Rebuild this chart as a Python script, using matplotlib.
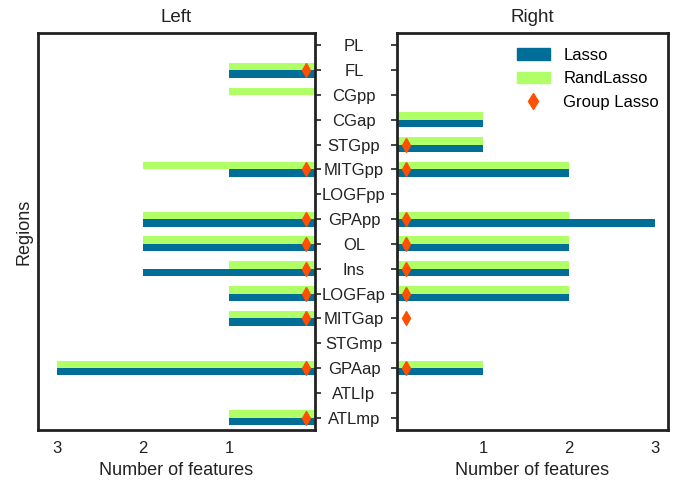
import numpy as np
import matplotlib
matplotlib.use("Agg")
import matplotlib.pyplot as plt
from matplotlib.patches import Patch
from matplotlib.lines import Line2D

regions = ["PL", "FL", "CGpp", "CGap", "STGpp", "MITGpp", "LOGFpp", "GPApp",
           "OL", "Ins", "LOGFap", "MITGap", "STGmp", "GPAap", "ATLIp", "ATLmp"]

left_lasso = [0, 1, 0, 0, 0, 1, 0, 2, 2, 2, 1, 1, 0, 3, 0, 1]
left_rand = [0, 1, 1, 0, 0, 2, 0, 2, 2, 1, 1, 1, 0, 3, 0, 1]
left_group = [0, 1, 0, 0, 0, 1, 0, 1, 1, 1, 1, 1, 0, 1, 0, 1]

right_lasso = [0, 0, 0, 1, 1, 2, 0, 3, 2, 2, 2, 0, 0, 1, 0, 0]
right_rand = [0, 0, 0, 1, 1, 2, 0, 2, 2, 2, 2, 0, 0, 1, 0, 0]
right_group = [0, 0, 0, 0, 1, 1, 0, 1, 1, 1, 1, 1, 0, 1, 0, 0]

lasso_color = "#006e96"
rand_color = "#b0ff66"
group_color = "#ff4f00"
text_color = "#222222"

plt.rcParams["font.family"] = ["Liberation Sans", "DejaVu Sans"]
plt.rcParams["font.size"] = 12


def draw(ax, lasso, rand, group):
    y = np.arange(len(regions))
    ax.barh(y + 0.15, lasso, height=0.3, color=lasso_color, label="Lasso")
    ax.barh(y - 0.15, rand, height=0.3, color=rand_color, label="RandLasso")
    gy = [yy for yy, g in zip(y, group) if g]
    ax.plot([0.1] * len(gy), gy, "d", color=group_color, markersize=7.5,
            linestyle="none", label="Group Lasso")
    ax.set_ylim(15.5, -0.5)
    ax.set_yticks(y)
    ax.set_xticks([1, 2, 3])
    ax.tick_params(axis="x", length=0, pad=8, labelsize=12, labelcolor=text_color)
    ax.tick_params(axis="y", length=4, width=1.2, color=text_color)
    ax.set_xlabel("Number of features", fontsize=13, color=text_color)
    for sp in ax.spines.values():
        sp.set_linewidth(2)
        sp.set_color(text_color)


fig = plt.figure(figsize=(6.77, 4.82), dpi=100)
ax_l = fig.add_axes([38 / 677, 1 - 430 / 482, 277 / 677, 397 / 482])
ax_r = fig.add_axes([397 / 677, 1 - 430 / 482, 271 / 677, 397 / 482])

draw(ax_l, left_lasso, left_rand, left_group)
ax_l.set_xlim(3.22, 0)
ax_l.yaxis.tick_right()
ax_l.set_yticklabels([])
ax_l.set_ylabel("Regions", fontsize=13, color=text_color)
ax_l.set_title("Left", fontsize=13.5, color=text_color, pad=8)

draw(ax_r, right_lasso, right_rand, right_group)
ax_r.set_xlim(0, 3.15)
ax_r.set_yticklabels(regions, ha="center", fontsize=12, color=text_color)
ax_r.tick_params(axis="y", pad=27)
ax_r.set_title("Right", fontsize=13.5, color=text_color, pad=8)

handles = [Patch(color=lasso_color, label="Lasso"),
           Patch(color=rand_color, label="RandLasso"),
           Line2D([], [], marker="d", color=group_color, linestyle="none",
                  markersize=8, label="Group Lasso")]
ax_r.legend(handles=handles, loc="upper right", bbox_to_anchor=(1.022, 1.0),
            frameon=False, fontsize=12, handlelength=2.0, handleheight=0.7,
            borderaxespad=0.5)

fig.savefig("out.png", dpi=100)
